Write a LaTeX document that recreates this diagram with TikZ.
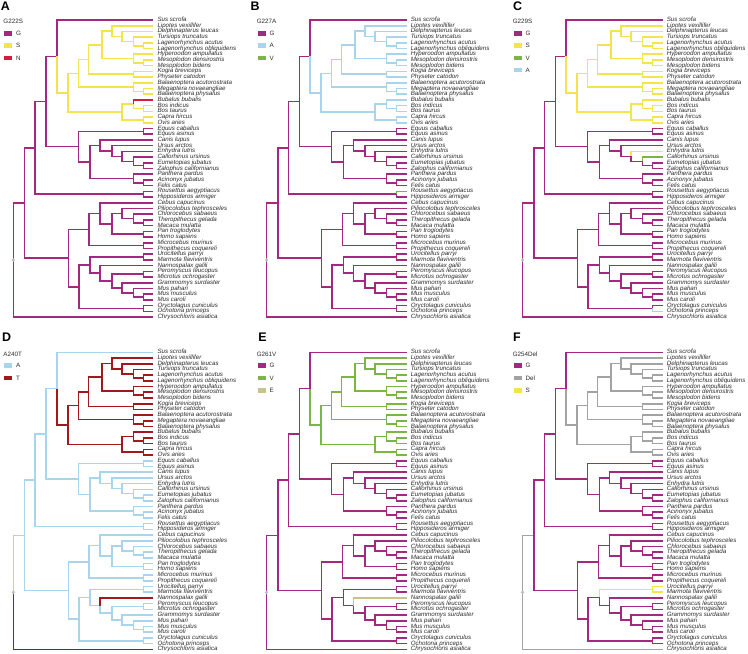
\documentclass[tikz,border=0pt]{standalone}
\usepackage{fontspec}
\setmainfont{Liberation Sans}
\usetikzlibrary{calc,positioning}
\definecolor{TreeMagenta}{HTML}{A3287F}
\definecolor{TreeYellow}{HTML}{F3E34C}
\definecolor{TreeRed}{HTML}{D81B3C}
\definecolor{TreeBlue}{HTML}{A8D5EC}
\definecolor{TreeGreen}{HTML}{7BB543}
\definecolor{TreeDarkRed}{HTML}{A3171E}
\definecolor{TreeKhaki}{HTML}{C9C28C}
\definecolor{TreeGray}{HTML}{A3A3A3}
\definecolor{TreeDot}{HTML}{BDBDBD}
\definecolor{TreeText}{HTML}{2B2B2B}
\tikzset{
    % Taxon label at a tip
    taxon/.style={
        anchor=west,
        inner xsep=4bp,
        inner ysep=0pt,
        text height=4.4bp,
        text depth=1.3bp,
        font=\fontsize{6.2}{6.2}\selectfont\itshape,
        text=TreeText
    },
    % Tree branch
    branch/.style={
        line width=1.6bp,
        line join=miter
    },
    % Panel letter
    panellabel/.style={
        inner sep=0pt,
        font=\fontsize{12.5}{12.5}\selectfont\bfseries
    },
    % Legend title
    legtitle/.style={
        anchor=west,
        inner sep=0pt,
        font=\fontsize{6.3}{6.3}\selectfont,
        text=TreeText
    },
    % Legend colour square
    legsq/.style={
        inner sep=0pt,
        minimum width=8bp,
        minimum height=4.6bp
    },
    % Legend entry text
    legtxt/.style={
        inner sep=0pt,
        font=\fontsize{6.3}{6.3}\selectfont,
        text=TreeText
    },
    % Root marker
    rootdot/.style={
        fill=TreeDot
    }
}

\def\taxa{sus/Sus scrofa, lip/Lipotes vexillifer, dleu/Delphinapterus leucas,
  ttru/Tursiops truncatus, laca/Lagenorhynchus acutus, lobl/Lagenorhynchus obliquidens,
  hamp/Hyperoodon ampullatus, mden/Mesoplodon densirostris, mbid/Mesoplodon bidens,
  kbre/Kogia breviceps, pcat/Physeter catodon, bacu/Balaenoptera acutorostrata,
  mnov/Megaptera novaeangliae, bphy/Balaenoptera physalus, bbub/Bubalus bubalis,
  bind/Bos indicus, btau/Bos taurus, chir/Capra hircus, oari/Ovis aries,
  ecab/Equus caballus, easi/Equus asinus, clup/Canis lupus, uarc/Ursus arctos,
  elut/Enhydra lutris, curs/Callorhinus ursinus, ejub/Eumetopias jubatus,
  zcal/Zalophus californianus, ppar/Panthera pardus, ajub/Acinonyx jubatus,
  fcat/Felis catus, raeg/Rousettus aegyptiacus, harm/Hipposideros armiger,
  ccap/Cebus capucinus, ptep/Piliocolobus tephrosceles, csab/Chlorocebus sabaeus,
  tgel/Theropithecus gelada, mmul/Macaca mulatta, ptro/Pan troglodytes,
  hsap/Homo sapiens, mmur/Microcebus murinus, pcoq/Propithecus coquereli,
  upar/Urocitellus parryi, mfla/Marmota flaviventris, ngal/Nannospalax galili,
  pleu/Peromyscus leucopus, moch/Microtus ochrogaster, gsur/Grammomys surdaster,
  mpah/Mus pahari, mmus/Mus musculus, mcar/Mus caroli,
  ocun/Oryctolagus cuniculus, opri/Ochotona princeps, casi/Chrysochloris asiatica}

% edges parent/child, parents first
\def\alledges{root/bor, root/casi, bor/lau, bor/eua, lau/sco, lau/bat,
  sco/art, sco/fer, art/sus, art/cer, cer/cet, cer/bov, cet/odo, cet/mys,
  odo/dz, odo/phy, dz/del, dz/zip, del/lip, del/dlt, dlt/dleu, dlt/tur,
  tur/ttru, tur/lag, lag/laca, lag/lobl, zip/hamp, zip/mes, mes/mden, mes/mbid,
  phy/kbre, phy/pcat, mys/bacu, mys/mgp, mgp/mnov, mgp/bphy,
  bov/bbo, bov/cap, bbo/bbub, bbo/bos, bos/bind, bos/btau, cap/chir, cap/oari,
  fer/equ, fer/car, equ/ecab, equ/easi, car/can, car/fld, can/clup, can/urs,
  urs/uarc, urs/mst, mst/elut, mst/pin, pin/curs, pin/otr, otr/ejub, otr/zcal,
  fld/ppar, fld/fel, fel/ajub, fel/fcat, bat/raeg, bat/harm,
  eua/pri, eua/gli, pri/ant, pri/str, ant/ccap, ant/cat, cat/cwm, cat/hom,
  cwm/ptep, cwm/chl, chl/csab, chl/cma, cma/tgel, cma/mmul, hom/ptro, hom/hsap,
  str/mmur, str/pcoq, gli/rod, gli/lgm, rod/sci, rod/mro, sci/upar, sci/mfla,
  mro/ngal, mro/muo, muo/cri, muo/mur, cri/pleu, cri/moch, mur/gsur, mur/mpa,
  mpa/mpah, mpa/mmc, mmc/mmus, mmc/mcar, lgm/ocun, lgm/opri}

% Cetacea + Bovidae clade
\def\cerEdges{art/cer, cer/cet, cer/bov, cet/odo, cet/mys,
  odo/dz, odo/phy, dz/del, dz/zip, del/lip, del/dlt, dlt/dleu, dlt/tur,
  tur/ttru, tur/lag, lag/laca, lag/lobl, zip/hamp, zip/mes, mes/mden, mes/mbid,
  phy/kbre, phy/pcat, mys/bacu, mys/mgp, mgp/mnov, mgp/bphy,
  bov/bbo, bov/cap, bbo/bbub, bbo/bos, bos/bind, bos/btau, cap/chir, cap/oari}

% internal node at x, halfway between two children
\newcommand\inode[4]{%
  \coordinate (tmp) at ($(#3)!0.5!(#4)$);
  \coordinate (#1) at (#2,0 |- tmp);}

\newcommand\placetree{%
  \foreach \tn/\tx [count=\i] in \taxa {
    \node[taxon] (\tn) at (153.3,{20+(\i-1)*5.712}) {\tx};
  }
  \inode{lag}{143.3}{laca}{lobl}
  \inode{tur}{133.3}{ttru}{lag}
  \inode{dlt}{121.7}{dleu}{tur}
  \inode{del}{111.7}{lip}{dlt}
  \inode{mes}{143.3}{mden}{mbid}
  \inode{zip}{133.3}{hamp}{mes}
  \inode{dz}{101.7}{del}{zip}
  \inode{phy}{133.3}{kbre}{pcat}
  \inode{odo}{88.3}{dz}{phy}
  \inode{mgp}{143.3}{mnov}{bphy}
  \inode{mys}{133.3}{bacu}{mgp}
  \inode{cet}{78.3}{odo}{mys}
  \inode{bos}{143.3}{bind}{btau}
  \inode{bbo}{133.3}{bbub}{bos}
  \inode{cap}{143.3}{chir}{oari}
  \inode{bov}{121.7}{bbo}{cap}
  \inode{cer}{67.7}{cet}{bov}
  \inode{art}{56.7}{sus}{cer}
  \inode{equ}{143.3}{ecab}{easi}
  \inode{otr}{143.3}{ejub}{zcal}
  \inode{pin}{133.3}{curs}{otr}
  \inode{mst}{121.7}{elut}{pin}
  \inode{urs}{111.7}{uarc}{mst}
  \inode{can}{100}{clup}{urs}
  \inode{fel}{143.3}{ajub}{fcat}
  \inode{fld}{133.3}{ppar}{fel}
  \inode{car}{90}{can}{fld}
  \inode{fer}{78.3}{equ}{car}
  \inode{sco}{46.2}{art}{fer}
  \inode{bat}{143.3}{raeg}{harm}
  \inode{lau}{35}{sco}{bat}
  \inode{cma}{143.3}{tgel}{mmul}
  \inode{chl}{133.3}{csab}{cma}
  \inode{cwm}{121.7}{ptep}{chl}
  \inode{hom}{143.3}{ptro}{hsap}
  \inode{cat}{111.7}{cwm}{hom}
  \inode{ant}{100}{ccap}{cat}
  \inode{str}{143.3}{mmur}{pcoq}
  \inode{pri}{89}{ant}{str}
  \inode{sci}{143.3}{upar}{mfla}
  \inode{mmc}{143.3}{mmus}{mcar}
  \inode{mpa}{133.3}{mpah}{mmc}
  \inode{mur}{121.7}{gsur}{mpa}
  \inode{cri}{143.3}{pleu}{moch}
  \inode{muo}{111.7}{cri}{mur}
  \inode{mro}{100}{ngal}{muo}
  \inode{rod}{90}{sci}{mro}
  \inode{lgm}{143.3}{ocun}{opri}
  \inode{gli}{78.7}{rod}{lgm}
  \inode{eua}{68.3}{pri}{gli}
  \inode{bor}{24.5}{lau}{eua}
  \inode{root}{13.3}{bor}{casi}}

% colour a list of branches in one panel
\newcommand\setcol[3]{%
  \edef\tmplist{#3}%
  \foreach \pa/\ch in \tmplist {\expandafter\xdef\csname ov#1@\ch\endcsname{#2}}}

% draw all branches of one panel
\newcommand\drawtree[2]{%
  \foreach \pa/\ch in \alledges {
    \ifcsname ov#1@\ch\endcsname \edef\bc{\csname ov#1@\ch\endcsname}\else \def\bc{#2}\fi
    \draw[branch, draw=\bc] (\pa) |- (\ch);
  }
  \fill[rootdot] (root) circle[radius=1.8bp];}

\newcommand\treelegend[2]{%
  \node[legtitle] (ltitle) at (3.3,21.7) {#1};
  \foreach \lc/\lt [count=\i] in {#2} {
    \node[legsq, fill=\lc] (lsq\i) at (8.3,{21+12.3*\i}) {};
    \node[legtxt, right=3.5bp of lsq\i] (ltx\i) {\lt};
  }}

\begin{document}
\begin{tikzpicture}[x=1bp, y=-1bp]
  \useasboundingbox (0,0) rectangle (748,654);

  \node[panellabel] (labA) at (5.3,6) {A};
  \node[panellabel] (labB) at (255,6) {B};
  \node[panellabel] (labC) at (517.5,6) {C};
  \node[panellabel] (labD) at (6.7,337.5) {D};
  \node[panellabel] (labE) at (262.5,337.5) {E};
  \node[panellabel] (labF) at (517,337.5) {F};

  % A: G222S
  \begin{scope}
    \placetree
    \setcol{A}{TreeYellow}{\cerEdges}
    \setcol{A}{TreeRed}{bbo/bbub}
    \drawtree{A}{TreeMagenta}
    \treelegend{G222S}{TreeMagenta/G, TreeYellow/S, TreeRed/N}
  \end{scope}

  % B: G227A
  \begin{scope}[shift={(253.3,0)}]
    \placetree
    \setcol{B}{TreeBlue}{\cerEdges}
    \setcol{B}{TreeGreen}{bat/raeg}
    \drawtree{B}{TreeMagenta}
    \treelegend{G227A}{TreeMagenta/G, TreeBlue/A, TreeGreen/V}
  \end{scope}

  % C: G229S
  \begin{scope}[shift={(509.3,0)}]
    \placetree
    \setcol{C}{TreeYellow}{\cerEdges, mst/elut}
    \setcol{C}{TreeGreen}{pin/curs}
    \setcol{C}{TreeBlue}{lgm/opri}
    \drawtree{C}{TreeMagenta}
    \treelegend{G229S}{TreeMagenta/G, TreeYellow/S, TreeGreen/V, TreeBlue/A}
  \end{scope}

  % D: A240T
  \begin{scope}[shift={(0,332.3)}]
    \placetree
    \setcol{D}{TreeDarkRed}{\cerEdges, mro/ngal, root/casi}
    \drawtree{D}{TreeBlue}
    \treelegend{A240T}{TreeBlue/A, TreeDarkRed/T}
  \end{scope}

  % E: G261V
  \begin{scope}[shift={(253.3,332.3)}]
    \placetree
    \setcol{E}{TreeGreen}{\cerEdges}
    \setcol{E}{TreeKhaki}{mro/ngal}
    \drawtree{E}{TreeMagenta}
    \treelegend{G261V}{TreeMagenta/G, TreeGreen/V, TreeKhaki/E}
  \end{scope}

  % F: G254Del
  \begin{scope}[shift={(509.3,332.3)}]
    \placetree
    \setcol{F}{TreeGray}{\cerEdges, root/bor, root/casi}
    \setcol{F}{TreeYellow}{rod/sci, sci/upar, sci/mfla}
    \drawtree{F}{TreeMagenta}
    \treelegend{G254Del}{TreeMagenta/G, TreeGray/Del, TreeYellow/S}
  \end{scope}
\end{tikzpicture}
\end{document}
